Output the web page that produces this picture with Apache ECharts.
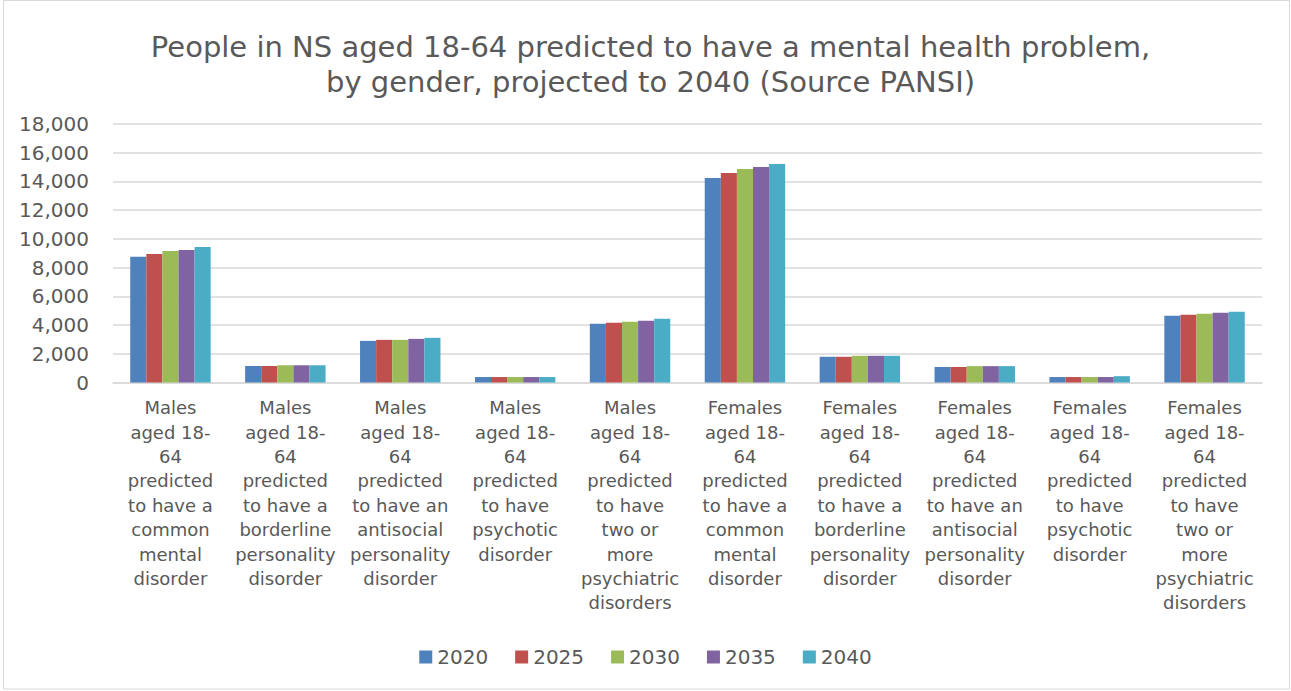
<!DOCTYPE html>
<html>
<head>
<meta charset="utf-8">
<script src="https://cdn.jsdelivr.net/npm/echarts@6/dist/echarts.min.js"></script>
<style>
html,body{margin:0;padding:0;background:#fff;}
#c{width:1291px;height:691px;}
</style>
</head>
<body>
<div id="c"></div>
<script>
const titleText = "People in NS aged 18-64 predicted to have a mental health problem,\nby gender, projected to 2040 (Source PANSI)";
const categories = [
  "Males\naged 18-\n64\npredicted\nto have a\ncommon\nmental\ndisorder",
  "Males\naged 18-\n64\npredicted\nto have a\nborderline\npersonality\ndisorder",
  "Males\naged 18-\n64\npredicted\nto have an\nantisocial\npersonality\ndisorder",
  "Males\naged 18-\n64\npredicted\nto have\npsychotic\ndisorder",
  "Males\naged 18-\n64\npredicted\nto have\ntwo or\nmore\npsychiatric\ndisorders",
  "Females\naged 18-\n64\npredicted\nto have a\ncommon\nmental\ndisorder",
  "Females\naged 18-\n64\npredicted\nto have a\nborderline\npersonality\ndisorder",
  "Females\naged 18-\n64\npredicted\nto have an\nantisocial\npersonality\ndisorder",
  "Females\naged 18-\n64\npredicted\nto have\npsychotic\ndisorder",
  "Females\naged 18-\n64\npredicted\nto have\ntwo or\nmore\npsychiatric\ndisorders"
];
const seriesNames = ["2020", "2025", "2030", "2035", "2040"];
const y2020 = [8750, 1150, 2900, 380, 4090, 14240, 1790, 1080, 380, 4650];
const y2025 = [8950, 1150, 2970, 380, 4160, 14590, 1790, 1080, 380, 4720];
const y2030 = [9160, 1200, 2970, 380, 4230, 14870, 1860, 1140, 380, 4790];
const y2035 = [9230, 1200, 3040, 380, 4300, 15000, 1860, 1140, 380, 4860];
const y2040 = [9440, 1200, 3110, 380, 4440, 15210, 1860, 1140, 440, 4930];
const colors = ["#4F81BD", "#C0504D", "#9BBB59", "#8064A2", "#4BACC6"];

const allValues = [y2020, y2025, y2030, y2035, y2040];
const FONT = "'DejaVu Sans', sans-serif";
const TXT = "#595959";

const chart = echarts.init(document.getElementById('c'), null, {renderer: 'svg'});
chart.setOption({
  animation: false,
  backgroundColor: '#ffffff',
  color: colors,
  title: {
    text: titleText,
    left: '50%',
    textAlign: 'center',
    top: 24,
    textStyle: {fontFamily: FONT, fontSize: 29, fontWeight: 'normal', color: TXT, lineHeight: 35}
  },
  legend: {
    data: seriesNames,
    bottom: 19,
    left: 'center',
    itemWidth: 13,
    itemHeight: 13,
    itemGap: 27,
    icon: 'rect',
    textStyle: {fontFamily: FONT, fontSize: 20, color: TXT}
  },
  grid: {left: 113, right: 29, top: 124, bottom: 308.5, containLabel: false, outerBoundsMode: 'none'},
  xAxis: {
    type: 'category',
    data: categories,
    axisLine: {show: true, lineStyle: {color: '#d9d9d9', width: 1.5}},
    axisTick: {show: false},
    axisLabel: {interval: 0, margin: 13, fontFamily: FONT, fontSize: 18, lineHeight: 24.4, color: TXT, align: 'center'}
  },
  yAxis: {
    type: 'value',
    min: 0,
    max: 18000,
    interval: 2000,
    axisLine: {show: false},
    axisTick: {show: false},
    splitLine: {lineStyle: {color: '#d9d9d9', width: 1.5}},
    axisLabel: {
      margin: 24,
      fontFamily: FONT, fontSize: 20, color: TXT,
      formatter: v => v.toLocaleString('en-US')
    }
  },
  graphic: [{
    type: 'rect',
    shape: {x: 3.5, y: 0.5, width: 1286, height: 688.5},
    style: {fill: 'none', stroke: '#d9d9d9', lineWidth: 1},
    silent: true
  }],
  series: seriesNames.map((n, i) => ({
    name: n,
    type: 'bar',
    data: allValues[i],
    barGap: '0%',
    barCategoryGap: '30%',
    itemStyle: {color: colors[i]}
  }))
});
</script>
</body>
</html>
